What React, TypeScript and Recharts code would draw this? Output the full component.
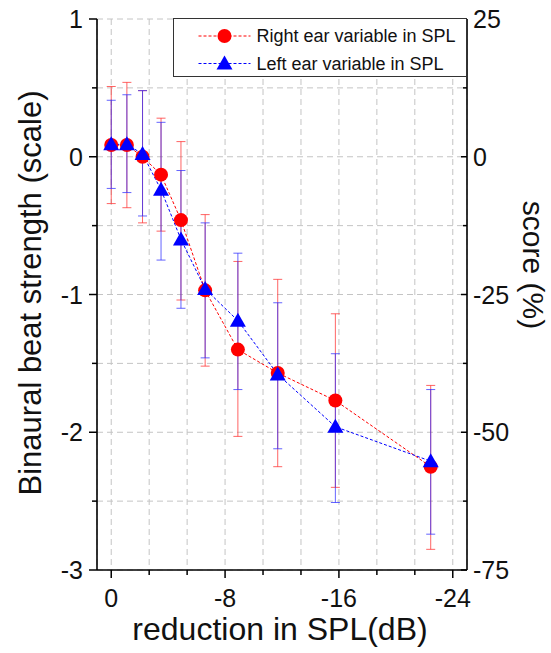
import React from 'react';
import { ComposedChart, Line, XAxis, YAxis, CartesianGrid, ErrorBar } from 'recharts';

const FONT = "'Liberation Sans', Arial, Helvetica, sans-serif";

// reduction in SPL (dB)
const reductionDb = [0, -1.1, -2.2, -3.5, -4.9, -6.6, -8.9, -11.7, -15.75, -22.45];

// Right ear variable in SPL
const rightMean = [0.085, 0.085, 0.0, -0.13, -0.46, -0.97, -1.4, -1.57, -1.77, -2.25];
const rightUpper = [0.51, 0.54, 0.48, 0.28, 0.11, -0.42, -0.76, -0.89, -1.14, -1.66];
const rightLower = [-0.34, -0.37, -0.48, -0.54, -1.04, -1.52, -2.03, -2.25, -2.4, -2.85];

// Left ear variable in SPL
const leftMean = [0.09, 0.09, 0.02, -0.24, -0.6, -0.96, -1.19, -1.58, -1.96, -2.21];
const leftUpper = [0.41, 0.45, 0.48, 0.25, -0.1, -0.48, -0.7, -1.06, -1.43, -1.69];
const leftLower = [-0.23, -0.26, -0.43, -0.75, -1.1, -1.46, -1.69, -2.12, -2.51, -2.74];

const xTicks = [0, -8 / 3, -16 / 3, -8, -32 / 3, -40 / 3, -16, -56 / 3, -64 / 3, -24];
const xLabelTicks = [0, -8, -16, -24];
const leftTicks = [-3, -2.5, -2, -1.5, -1, -0.5, 0, 0.5, 1];
const leftLabelTicks = [-3, -2, -1, 0, 1];
const rightTicks = [-75, -62.5, -50, -37.5, -25, -12.5, 0, 12.5, 25];
const rightLabelTicks = [-75, -50, -25, 0, 25];

const rightData = reductionDb.map((x, i) => ({
  x,
  y: rightMean[i],
  err: [rightMean[i] - rightLower[i], rightUpper[i] - rightMean[i]],
}));
const leftData = reductionDb.map((x, i) => ({
  x,
  y: leftMean[i],
  err: [leftMean[i] - leftLower[i], leftUpper[i] - leftMean[i]],
}));

const has = (arr: number[], v: number) => arr.some((a) => Math.abs(a - v) < 1e-6);

const TICK_FONT = 25;

const XTick = (props: any) => {
  const { x, y, payload } = props;
  const major = has(xLabelTicks, payload.value);
  return (
    <g>
      <line x1={x} y1={y} x2={x} y2={y + (major ? 8 : 5)} stroke="#000" strokeWidth={1.5} />
      {major && (
        <text x={x} y={y + 28} textAnchor="middle" dominantBaseline="central" fontSize={TICK_FONT} fontFamily={FONT} fill="#111">
          {Math.round(payload.value)}
        </text>
      )}
    </g>
  );
};

const LeftTick = (props: any) => {
  const { x, y, payload } = props;
  const major = has(leftLabelTicks, payload.value);
  return (
    <g>
      <line x1={x} y1={y} x2={x - (major ? 8 : 5)} y2={y} stroke="#000" strokeWidth={1.5} />
      {major && (
        <text x={x - 14} y={y} textAnchor="end" dominantBaseline="central" fontSize={TICK_FONT} fontFamily={FONT} fill="#111">
          {payload.value}
        </text>
      )}
    </g>
  );
};

const RightTick = (props: any) => {
  const { x, y, payload } = props;
  const major = has(rightLabelTicks, payload.value);
  return (
    <g>
      <line x1={x} y1={y} x2={x - (major ? 6 : 4)} y2={y} stroke="#000" strokeWidth={1.5} />
      {major && (
        <text x={x + 6} y={y} textAnchor="start" dominantBaseline="central" fontSize={TICK_FONT} fontFamily={FONT} fill="#111">
          {payload.value}
        </text>
      )}
    </g>
  );
};

const CircleDot = (props: any) => {
  const { cx, cy } = props;
  if (cx == null || cy == null) return null;
  return <circle cx={cx} cy={cy} r={7} fill="#ff0000" stroke="none" />;
};

const TriangleDot = (props: any) => {
  const { cx, cy } = props;
  if (cx == null || cy == null) return null;
  return <polygon points={`${cx},${cy - 8} ${cx - 8},${cy + 6} ${cx + 8},${cy + 6}`} fill="#0000ff" stroke="none" />;
};

export default function App() {
  return (
    <div style={{ position: 'absolute', left: 0, top: 0, width: 551, height: 653, background: '#fff' }}>
      <ComposedChart width={551} height={653} margin={{ top: 19, right: 24, bottom: 43, left: 37 }}>
        <CartesianGrid yAxisId="left" stroke="#c4c4c4" strokeDasharray="6 4" strokeWidth={1} />
        <XAxis
          dataKey="x"
          type="number"
          domain={[-25, 1]}
          reversed
          ticks={xTicks}
          interval={0}
          height={40}
          allowDataOverflow
          tickSize={0}
          tickMargin={0}
          tickLine={false}
          tick={<XTick />}
          axisLine={{ stroke: '#000', strokeWidth: 1.6 }}
        />
        <YAxis
          yAxisId="left"
          type="number"
          domain={[-3, 1]}
          ticks={leftTicks}
          interval={0}
          width={60}
          allowDataOverflow
          tickSize={0}
          tickMargin={0}
          tickLine={false}
          tick={<LeftTick />}
          axisLine={{ stroke: '#000', strokeWidth: 1.6 }}
        />
        <YAxis
          yAxisId="right"
          orientation="right"
          type="number"
          domain={[-75, 25]}
          ticks={rightTicks}
          interval={0}
          width={60}
          allowDataOverflow
          tickSize={0}
          tickMargin={0}
          tickLine={false}
          tick={<RightTick />}
          axisLine={{ stroke: '#000', strokeWidth: 1.6 }}
        />
        <Line
          yAxisId="left"
          data={rightData}
          dataKey="y"
          type="linear"
          stroke="#ff0000"
          strokeWidth={1}
          strokeDasharray="3 2"
          dot={<CircleDot />}
          activeDot={false}
          isAnimationActive={false}
        >
          <ErrorBar dataKey="err" direction="y" width={4.5} stroke="#ff3030" strokeOpacity={0.75} strokeWidth={1} />
        </Line>
        <Line
          yAxisId="left"
          data={leftData}
          dataKey="y"
          type="linear"
          stroke="#0000ff"
          strokeWidth={1}
          strokeDasharray="3 2"
          dot={<TriangleDot />}
          activeDot={false}
          isAnimationActive={false}
        >
          <ErrorBar dataKey="err" direction="y" width={4.5} stroke="#3030ff" strokeOpacity={0.75} strokeWidth={1} />
        </Line>
      </ComposedChart>
      <svg width={551} height={653} style={{ position: 'absolute', left: 0, top: 0, pointerEvents: 'none' }}>
        <text
          x={30}
          y={293}
          transform="rotate(-90 30 293)"
          textAnchor="middle"
          dominantBaseline="central"
          fontSize={31}
          fontFamily={FONT}
          fill="#111"
        >
          Binaural beat strength (scale)
        </text>
        <text
          x={533}
          y={265}
          transform="rotate(90 533 265)"
          textAnchor="middle"
          dominantBaseline="central"
          fontSize={30}
          fontFamily={FONT}
          fill="#111"
        >
          score (%)
        </text>
        <text x={280} y={629} textAnchor="middle" dominantBaseline="central" fontSize={32} fontFamily={FONT} fill="#111">
          reduction in SPL(dB)
        </text>
        <g transform="translate(173.5 18.5)">
          <rect x={0} y={0} width={293} height={58} fill="#fff" stroke="#333" strokeWidth={1} />
          <line x1={25} y1={17.5} x2={77} y2={17.5} stroke="#ff0000" strokeWidth={1} strokeDasharray="3 2" />
          <circle cx={51} cy={17.5} r={7} fill="#ff0000" />
          <text x={83} y={17.5} dominantBaseline="central" fontSize={18} fontFamily={FONT} fill="#111">
            Right ear variable in SPL
          </text>
          <line x1={25} y1={45} x2={77} y2={45} stroke="#0000ff" strokeWidth={1} strokeDasharray="3 2" />
          <polygon points="51,37 43,51 59,51" fill="#0000ff" />
          <text x={83} y={45} dominantBaseline="central" fontSize={18} fontFamily={FONT} fill="#111">
            Left ear variable in SPL
          </text>
        </g>
      </svg>
    </div>
  );
}
